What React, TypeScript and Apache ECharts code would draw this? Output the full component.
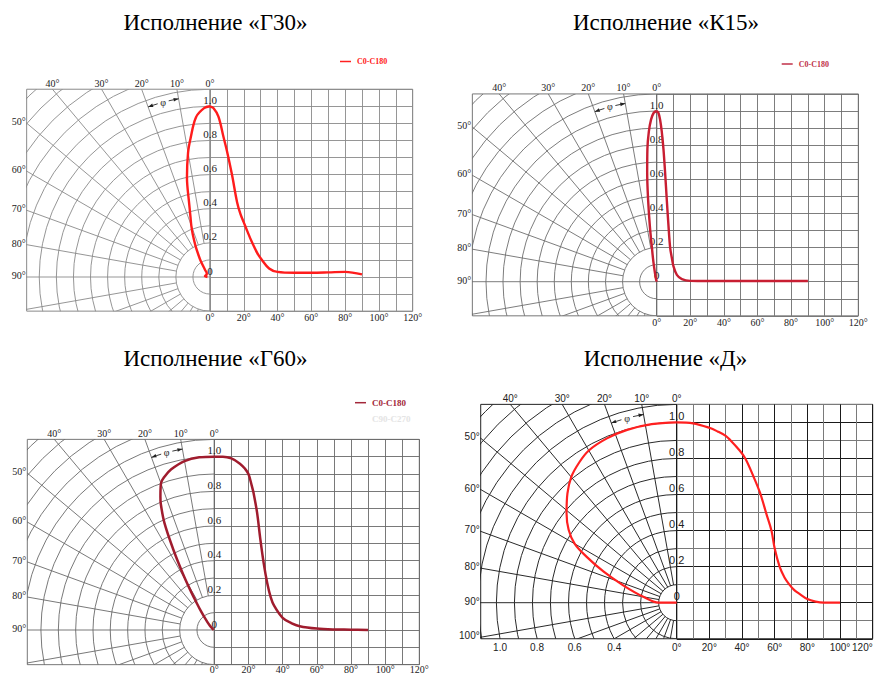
import React, { useEffect, useRef } from 'react';
import * as echarts from 'echarts';

// ---------- DATA ----------
const titles = ['Исполнение «Г30»', 'Исполнение «К15»', 'Исполнение «Г60»', 'Исполнение «Д»'];
const legendNames = ['C0-C180', 'C90-C270'];

// Г30 (relative intensity vs angle, degrees)
const g30Angles = [0, 2, 5, 8, 10, 13, 16, 18, 20, 22, 25, 28, 30, 35, 40, 50, 60, 70, 80, 90];
const g30Values = [1.0, 0.99, 0.94, 0.82, 0.74, 0.6, 0.44, 0.37, 0.32, 0.27, 0.2, 0.14, 0.11, 0.05, 0.03, 0.025, 0.025, 0.027, 0.03, 0.015];

// К15
const k15Angles = [0, 1, 2, 3, 4, 5, 6, 7, 8, 9, 10, 12, 15, 20, 30, 40, 50, 60, 70, 80, 90];
const k15Values = [1.0, 0.99, 0.95, 0.88, 0.78, 0.64, 0.48, 0.33, 0.2, 0.14, 0.09, 0.04, 0.015, 0.005, 0.004, 0.004, 0.004, 0.004, 0.004, 0.004, 0.004];

// Г60
const g60Angles = [0, 5, 10, 15, 18, 20, 22, 23, 25, 27, 29, 31, 33, 35, 40, 45, 50, 60, 70, 80, 90];
const g60Values = [1.0, 1.0, 0.99, 0.96, 0.93, 0.9, 0.83, 0.79, 0.68, 0.52, 0.38, 0.27, 0.19, 0.14, 0.07, 0.04, 0.022, 0.008, 0.003, 0.002, 0];

// Д (polar and cartesian curves differ in the source)
const dPolarAngles = [0, 8, 16, 23, 30, 35, 40, 45, 51, 56, 60, 63, 67, 72, 80, 90, 90];
const dPolarValues = [1.0, 1.0, 0.997, 0.99, 0.975, 0.946, 0.91, 0.857, 0.786, 0.723, 0.653, 0.56, 0.44, 0.312, 0.188, 0.1, 0];
const dAngles = [0, 10, 20, 25, 30, 33, 38, 42, 47, 51, 55, 58, 60, 63, 66, 69, 72, 75, 80, 85, 90, 100];
const dValues = [1.0, 0.995, 0.97, 0.95, 0.925, 0.9, 0.85, 0.8, 0.7, 0.61, 0.49, 0.4, 0.3, 0.2, 0.14, 0.1, 0.07, 0.05, 0.02, 0.006, 0, 0];

// tick labels
const topAngleTicks = [0, 10, 20, 30, 40];
const sideAngleTicks = [50, 60, 70, 80, 90];
const sideAngleTicksD = [50, 60, 70, 80, 90, 100];
const radialTicks = [0, 0.2, 0.4, 0.6, 0.8, 1.0];
const radialTickLabels = ['0', '0.2', '0.4', '0.6', '0.8', '1.0'];
const degreeTicks = [0, 20, 40, 60, 80, 100, 120];
const bottomRadiusTicksD = [1.0, 0.8, 0.6, 0.4];

// ---------- LAYOUT ----------
const DEG = Math.PI / 180;
const Y_MIN = -0.2;
const Y_MAX = 1.1;

const SERIF = '"Liberation Serif", "Times New Roman", serif';
const SANS = '"Liberation Sans", Arial, sans-serif';

const panels = [
  {
    title: titles[0], tx: 215.5, ty: 22.7,
    ox: 210, oy: 277, R: 170.7, leftExt: 1.074, rightW: 202.7,
    angles: g30Angles, values: g30Values, polarAngles: g30Angles, polarValues: g30Values,
    color: '#ff1c1c', width: 2.4,
    lineColor: '#8a8a8a', polarColor: '#8a8a8a', border: '#8a8a8a', lineWidth: 0.9,
    font: SERIF, r0: 0.2, side: sideAngleTicks, bottom: [] as number[], xMargin: 1, alignMax: 'center',
    legend: { x: 340, y: 61.5, color: '#ff2020', size: 8, faint: false },
  },
  {
    title: titles[1], tx: 666, ty: 22.7,
    ox: 656.7, oy: 281.7, R: 170.7, leftExt: 1.08, rightW: 201.6,
    angles: k15Angles, values: k15Values, polarAngles: k15Angles, polarValues: k15Values,
    color: '#c81e32', width: 2.4,
    lineColor: '#6e6e6e', polarColor: '#6e6e6e', border: '#777', lineWidth: 0.9,
    font: SERIF, r0: 0.2, side: sideAngleTicks, bottom: [] as number[], xMargin: 2, alignMax: 'center',
    legend: { x: 781.7, y: 64, color: '#c03048', size: 8, faint: false },
  },
  {
    title: titles[2], tx: 215.5, ty: 358,
    ox: 214.3, oy: 630, R: 173.3, leftExt: 1.079, rightW: 205,
    angles: g60Angles, values: g60Values, polarAngles: g60Angles, polarValues: g60Values,
    color: '#a01c2e', width: 2.5,
    lineColor: '#6a6a6a', polarColor: '#6a6a6a', border: '#777', lineWidth: 0.9,
    font: SERIF, r0: 0.2, side: sideAngleTicks, bottom: [] as number[], xMargin: 0, alignMax: 'center',
    legend: { x: 355, y: 402.7, color: '#a3283a', size: 9, faint: true },
  },
  {
    title: titles[3], tx: 665.5, ty: 358,
    ox: 676.7, oy: 602.7, R: 180.3, leftExt: 1.087, rightW: 196,
    angles: dAngles, values: dValues, polarAngles: dPolarAngles, polarValues: dPolarValues,
    color: '#ff2020', width: 2.2,
    lineColor: ['#1a1a1a', '#7a7a7a'], polarColor: '#2a2a2a', border: '#222', lineWidth: 1,
    font: SANS, r0: 0.1, side: sideAngleTicksD, bottom: bottomRadiusTicksD, xMargin: 4, alignMax: 'right',
    legend: null as any,
  },
];

function gridRender(p: any) {
  return (params: any, api: any) => {
    const o = api.coord([0, 0]);
    const R = api.size([1, 1])[1];
    const st = { stroke: p.polarColor, lineWidth: p.lineWidth, fill: 'none' };
    const children: any[] = [];
    for (let k = 1; k <= 16; k++) {
      children.push({
        type: 'arc',
        shape: { cx: o[0], cy: o[1], r: k * 0.1 * R, startAngle: Math.PI / 2, endAngle: Math.PI * 1.5, clockwise: true },
        style: st,
      });
    }
    for (let a = 10; a <= 170; a += 10) {
      const s = Math.sin(a * DEG);
      const c = Math.cos(a * DEG);
      const r0 = a === 90 ? 0 : p.r0;
      children.push({
        type: 'line',
        shape: { x1: o[0] - s * r0 * R, y1: o[1] - c * r0 * R, x2: o[0] - s * 2 * R, y2: o[1] - c * 2 * R },
        style: st,
      });
    }
    return { type: 'group', children };
  };
}

function txt(x: number, y: number, text: string, font: string, align: string, vAlign: string, fill = '#222') {
  return {
    type: 'text', x, y,
    style: { text, font, fill, align, textAlign: align, verticalAlign: vAlign, textVerticalAlign: vAlign },
  };
}

function labelRender(p: any) {
  return (params: any, api: any) => {
    const o = api.coord([0, 0]);
    const R = api.size([1, 1])[1];
    const xmin = -p.leftExt;
    const children: any[] = [];
    const font = `10px ${p.font}`;
    [...topAngleTicks, ...p.side].forEach((a: number) => {
      const s = Math.sin(a * DEG);
      const c = Math.cos(a * DEG);
      if (c > 0 && (Y_MAX * s) / c <= -xmin) {
        const pt = api.coord([(-Y_MAX * s) / c, Y_MAX]);
        children.push(txt(pt[0], pt[1] - 1, a + '°', font, 'center', 'bottom'));
      } else {
        const y = (-xmin * c) / s;
        const pt = api.coord([xmin, y]);
        children.push(txt(pt[0] - 1, pt[1] - 1.5, a + '°', font, 'right', 'middle'));
      }
    });
    p.bottom.forEach((r: number) => {
      const x = -Math.sqrt(r * r - Y_MIN * Y_MIN);
      const pt = api.coord([x, Y_MIN]);
      children.push(txt(pt[0], pt[1] + p.xMargin, r.toFixed(1), font, 'center', 'top'));
    });
    // phi marker
    const pr = 1.06 * R;
    const st = { stroke: '#222', lineWidth: 0.9, fill: 'none' };
    children.push({ type: 'arc', shape: { cx: o[0], cy: o[1], r: pr, startAngle: 1.5 * Math.PI - 20 * DEG, endAngle: 1.5 * Math.PI - 16.8 * DEG, clockwise: true }, style: st });
    children.push({ type: 'arc', shape: { cx: o[0], cy: o[1], r: pr, startAngle: 1.5 * Math.PI - 13.2 * DEG, endAngle: 1.5 * Math.PI - 10 * DEG, clockwise: true }, style: st });
    const head = (phi: number, dir: number) => {
      const s = Math.sin(phi * DEG);
      const c = Math.cos(phi * DEG);
      const tip = [o[0] - s * pr, o[1] - c * pr];
      const tx = -c * dir, ty = s * dir;
      const nx = -s, ny = -c;
      const L = 5, w = 1.8;
      const b = [tip[0] - L * tx, tip[1] - L * ty];
      return {
        type: 'polygon',
        shape: { points: [tip, [b[0] + w * nx, b[1] + w * ny], [b[0] - w * nx, b[1] - w * ny]] },
        style: { fill: '#222', stroke: 'none' },
      };
    };
    children.push(head(20, 1));
    children.push(head(10, -1));
    const ps = Math.sin(15 * DEG), pc = Math.cos(15 * DEG);
    children.push(txt(o[0] - ps * pr, o[1] - pc * pr, 'φ', `10px ${SERIF}`, 'center', 'middle'));
    return { type: 'group', children };
  };
}

function buildOption() {
  const grid: any[] = [];
  const xAxis: any[] = [];
  const yAxis: any[] = [];
  const series: any[] = [];
  const graphic: any[] = [];

  panels.forEach((p, i) => {
    const top = p.oy - Y_MAX * p.R;
    const h = (Y_MAX - Y_MIN) * p.R;
    const lw = p.leftExt * p.R;
    const gl = 2 * i;
    const gr = 2 * i + 1;
    const gridBase = { show: true, borderColor: p.border, borderWidth: 1, backgroundColor: 'transparent', containLabel: false, outerBoundsMode: 'none' };
    grid.push({ ...gridBase, left: p.ox - lw, top, width: lw, height: h });
    grid.push({ ...gridBase, left: p.ox, top, width: p.rightW, height: h });

    xAxis.push({ type: 'value', gridIndex: gl, min: -p.leftExt, max: 0, show: false });
    yAxis.push({ type: 'value', gridIndex: gl, min: Y_MIN, max: Y_MAX, show: false });

    xAxis.push({
      type: 'value', gridIndex: gr, min: 0, max: 120, interval: 10,
      axisLine: { show: false }, axisTick: { show: false },
      splitLine: { show: true, lineStyle: { color: p.lineColor, width: p.lineWidth } },
      axisLabel: {
        margin: p.xMargin, color: '#222', fontFamily: p.font, fontSize: 10, lineHeight: 10,
        showMinLabel: true, showMaxLabel: true, hideOverlap: false, alignMaxLabel: p.alignMax,
        formatter: (v: number) => (degreeTicks.some((t) => Math.abs(t - v) < 1e-6) ? Math.round(v) + '°' : ''),
      },
    });
    yAxis.push({
      type: 'value', gridIndex: gr, min: Y_MIN, max: Y_MAX, interval: 0.1, position: 'left',
      axisLine: { show: false }, axisTick: { show: false },
      splitLine: { show: true, lineStyle: { color: p.lineColor, width: p.lineWidth } },
      axisLabel: {
        inside: true, margin: 0, align: 'center', verticalAlign: 'bottom', padding: [0, 0, 1, 0],
        color: '#222', fontFamily: p.font, fontSize: 11,
        showMinLabel: true, showMaxLabel: true, hideOverlap: false,
        formatter: (v: number) => {
          const idx = radialTicks.findIndex((t) => Math.abs(t - v) < 1e-6);
          return idx >= 0 ? radialTickLabels[idx] : '';
        },
      },
    });

    series.push({ type: 'custom', xAxisIndex: gl, yAxisIndex: gl, data: [[0, 0]], clip: true, silent: true, z: 1, renderItem: gridRender(p) });
    series.push({ type: 'custom', xAxisIndex: gl, yAxisIndex: gl, data: [[0, 0]], clip: false, silent: true, z: 3, renderItem: labelRender(p) });
    series.push({
      type: 'line', name: legendNames[0], xAxisIndex: gl, yAxisIndex: gl,
      data: p.polarAngles.map((a, j) => [-p.polarValues[j] * Math.sin(a * DEG), p.polarValues[j] * Math.cos(a * DEG)]),
      smooth: 0.35, symbol: 'none', clip: false, silent: true, z: 5,
      lineStyle: { color: p.color, width: p.width },
    });
    series.push({
      type: 'line', name: legendNames[0], xAxisIndex: gr, yAxisIndex: gr,
      data: p.angles.map((a, j) => [a, p.values[j]]),
      smooth: 0.35, symbol: 'none', clip: false, silent: true, z: 5,
      lineStyle: { color: p.color, width: p.width },
    });

    graphic.push({
      type: 'text', x: p.tx, y: p.ty,
      style: { text: p.title, font: `23px ${SERIF}`, fill: '#000', align: 'center', textAlign: 'center', verticalAlign: 'middle', textVerticalAlign: 'middle' },
    });
    if (p.legend) {
      const L = p.legend;
      graphic.push({ type: 'line', shape: { x1: L.x, y1: L.y, x2: L.x + 11, y2: L.y }, style: { stroke: L.color, lineWidth: 1.5 } });
      graphic.push({
        type: 'text', x: L.x + 17, y: L.y,
        style: { text: legendNames[0], font: `bold ${L.size}px ${SERIF}`, fill: L.color, align: 'left', textAlign: 'left', verticalAlign: 'middle', textVerticalAlign: 'middle' },
      });
      if (L.faint) {
        graphic.push({
          type: 'text', x: L.x + 17, y: L.y + 16,
          style: { text: legendNames[1], font: `bold ${L.size}px ${SERIF}`, fill: '#e4e4e4', align: 'left', textAlign: 'left', verticalAlign: 'middle', textVerticalAlign: 'middle' },
        });
      }
    }
  });

  return {
    animation: false,
    backgroundColor: '#ffffff',
    textStyle: { fontFamily: SERIF },
    grid, xAxis, yAxis, series, graphic,
  };
}

export default function App() {
  const ref = useRef<HTMLDivElement>(null);
  useEffect(() => {
    if (!ref.current) return;
    const chart = echarts.init(ref.current, undefined, { renderer: 'svg' });
    chart.setOption(buildOption() as any);
    return () => chart.dispose();
  }, []);
  return (
    <div
      ref={ref}
      style={{ position: 'absolute', left: 0, top: 0, width: 881, height: 674, background: '#fff' }}
    />
  );
}
